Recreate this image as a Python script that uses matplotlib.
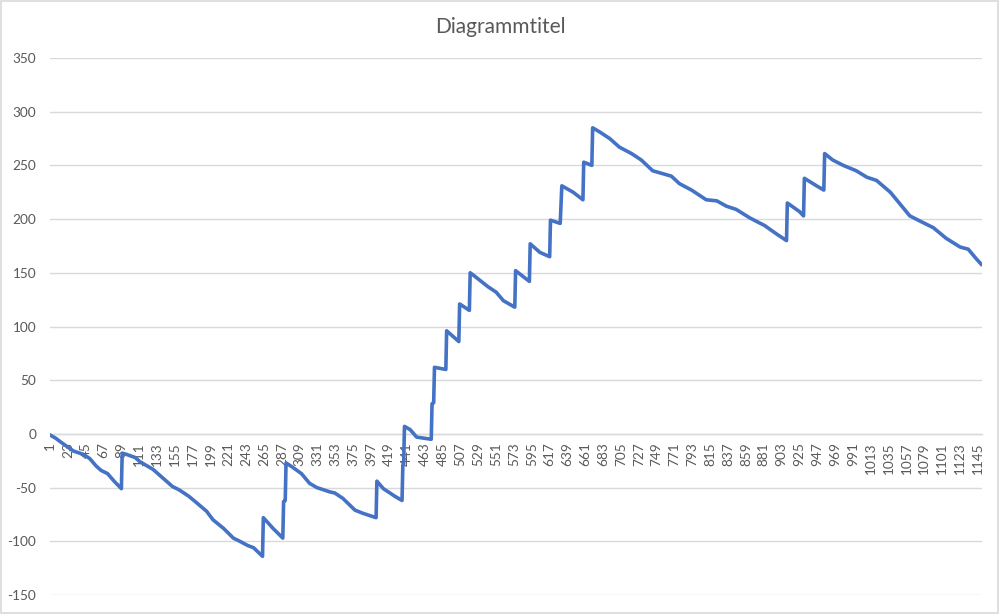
import matplotlib.pyplot as plt
from matplotlib.patches import Rectangle

# ----------------------------
# Data (category index, value)
# pairs at the same/adjacent index are the vertical jumps
# ----------------------------
idx = [1, 8, 15, 30, 42, 50, 58, 64, 72, 80, 89,
       90, 95, 106, 112, 128, 140, 152, 160, 172, 180, 194, 202, 215, 227, 235, 245, 252, 263,
       264, 276, 288,
       289, 291,
       292, 300, 311, 321, 330, 346, 352, 362, 377, 387, 403,
       404, 412, 426, 435,
       436, 437, 438, 445, 453, 471,
       472, 474, 475, 489,
       490, 493, 505,
       506, 518,
       519, 526, 541, 551, 560, 574,
       575, 592,
       593, 605, 617,
       618, 630,
       632, 646, 658,
       659, 669,
       670, 679, 691, 703, 718, 730, 744, 767, 777, 792, 810, 823, 835, 847, 864, 882, 897, 909,
       910, 925, 930,
       931, 946, 955,
       956, 966, 979, 995, 1008, 1020, 1037, 1049, 1061, 1074, 1090, 1106, 1123, 1133, 1143, 1149]
vals = [-1, -4, -8, -16, -19, -23, -30, -34, -37, -44, -51,
        -18, -19, -22, -26, -33, -41, -49, -52, -58, -63, -72, -80, -88, -97, -100, -104, -106, -114,
        -78, -88, -97,
        -63, -62,
        -27, -31, -37, -46, -50, -54, -55, -60, -71, -74, -78,
        -44, -51, -58, -62,
        -29, -28, 7, 4, -3, -5,
        28, 29, 62, 60,
        96, 94, 86,
        121, 115,
        150, 146, 137, 132, 124, 118,
        152, 142,
        177, 169, 165,
        199, 196,
        231, 225, 218,
        253, 250,
        285, 281, 275, 267, 261, 255, 245, 240, 233, 227, 218, 217, 212, 209, 201, 194, 186, 180,
        215, 207, 203,
        238, 231, 227,
        261, 255, 250, 245, 239, 236, 225, 214, 203, 198, 192, 182, 174, 172, 163, 158]

N_POINTS = 1150
TICK_STEP = 22
tick_pos = list(range(1, N_POINTS, TICK_STEP))
tick_lab = [str(t) for t in tick_pos]
y_ticks = list(range(-150, 351, 50))

# ----------------------------
# Plotting
# ----------------------------
plt.rcParams['font.family'] = ['Lato', 'DejaVu Sans']
GRID = '#d9d9d9'
TXT = '#595959'

fig = plt.figure(figsize=(10, 6.14), dpi=100)
ax = fig.add_axes([0.05, 1 - 595 / 614, 0.932, (595 - 58) / 614])

# horizontal axis sits at value 0 (set before ticks: this resets them)
for s in ['top', 'right', 'left']:
    ax.spines[s].set_visible(False)
ax.spines['bottom'].set_position(('data', 0))
ax.spines['bottom'].set_color(GRID)
ax.spines['bottom'].set_linewidth(1.0)

ax.plot(idx, vals, color='#4472C4', linewidth=2.6, solid_joinstyle='round', zorder=3)

ax.set_xlim(1, N_POINTS)
ax.set_ylim(-150, 350)
ax.set_yticks(y_ticks)
ax.set_yticklabels([str(v) for v in y_ticks])
ax.set_xticks(tick_pos)
ax.set_xticklabels(tick_lab)

ax.grid(axis='y', color=GRID, linewidth=1.0)
ax.set_axisbelow(True)

ax.tick_params(axis='both', length=0, labelsize=9.8, labelcolor=TXT)
ax.tick_params(axis='x', pad=6, labelrotation=90)
ax.tick_params(axis='y', pad=10)

fig.text(0.5, 1 - 27 / 614, 'Diagrammtitel', ha='center', va='center',
         fontsize=15, color=TXT)

# chart area border
fig.patches.append(Rectangle((0.001, 0.002), 0.997, 0.996, transform=fig.transFigure,
                             fill=False, edgecolor=GRID, linewidth=1.2))

fig.savefig('out.png', dpi=100)
